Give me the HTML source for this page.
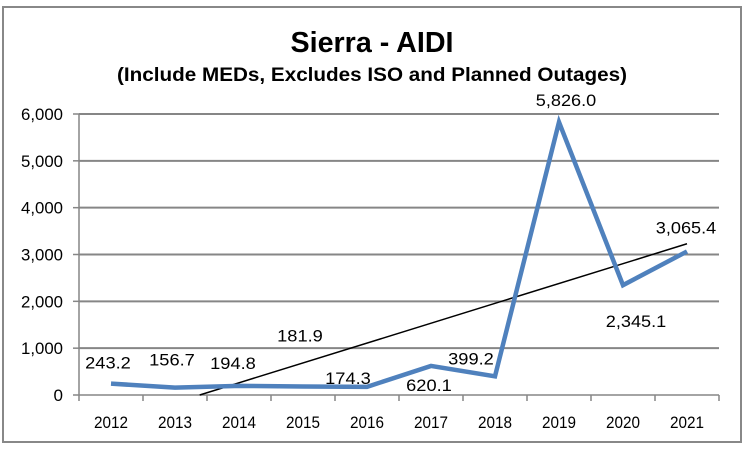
<!DOCTYPE html>
<html><head><meta charset="utf-8"><style>
html,body{margin:0;padding:0;background:#fff;}
svg{display:block;font-family:"Liberation Sans",sans-serif;}
</style></head><body>
<svg id="chart" width="746" height="450">
<defs><clipPath id="pc"><rect x="0" y="0" width="719" height="450"/></clipPath></defs>
<rect x="3" y="7" width="738" height="435" fill="#fff" stroke="#888" stroke-width="2"/>
<text x="372" y="52" text-anchor="middle" font-size="29" font-weight="bold" textLength="163" lengthAdjust="spacingAndGlyphs">Sierra - AIDI</text>
<text x="372" y="81" text-anchor="middle" font-size="19" font-weight="bold" textLength="510" lengthAdjust="spacingAndGlyphs">(Include MEDs, Excludes ISO and Planned Outages)</text>
<g id="grid"></g><g id="axes"></g><g id="trend"></g><g id="series"></g><g id="labels" clip-path="url(#pc)"></g>
</svg>
<script>
const categories=["2012","2013","2014","2015","2016","2017","2018","2019","2020","2021"];
const values=[243.2,156.7,194.8,181.9,174.3,620.1,399.2,5826.0,2345.1,3065.4];
const valueLabels=["243.2","156.7","194.8","181.9","174.3","620.1","399.2","5,826.0","2,345.1","3,065.4"];
const yTicks=[0,1000,2000,3000,4000,5000,6000];
const yTickLabels=["0","1,000","2,000","3,000","4,000","5,000","6,000"];
const labelOffsets=[[-3,-21],[-3,-28],[-6,-23],[-3,-51],[-19,-9],[-2,19],[-24,-18],[7,-22],[13,36],[-1,-24]];
const NS="http://www.w3.org/2000/svg";
const X0=79,X1=719,Y0=395,YT=114,YMAX=6000;
const bw=(X1-X0)/categories.length;
const xs=i=>X0+bw*(i+0.5);
const ys=v=>Y0-(v/YMAX)*(Y0-YT);
function tw(s,d,p){let w=0;for(const c of s)w+=(c===','||c==='.')?p:d;return w;}
function mk(t,a,p){const e=document.createElementNS(NS,t);for(const k in a)e.setAttribute(k,a[k]);p.appendChild(e);return e;}
const grid=document.getElementById('grid'),axes=document.getElementById('axes');
yTicks.forEach((t,i)=>{
 if(t>0){const l=mk('line',{x1:X0,x2:X1,y1:ys(t),y2:ys(t),stroke:'#868686','stroke-width':2},grid);
 
 }
 const tk=mk('line',{x1:X0-6,x2:X0,y1:ys(t),y2:ys(t),stroke:'#868686','stroke-width':1.5},axes);
 
 
 const s=yTickLabels[i];
 const tx=mk('text',{x:X0-16,y:ys(t)+6,'text-anchor':'end','font-size':17,textLength:tw(s,9.5,4),lengthAdjust:'spacingAndGlyphs'},axes);
 tx.textContent=s;
 
 
});
let a=mk('line',{x1:X0,x2:X0,y1:YT,y2:Y0,stroke:'#868686','stroke-width':1.5},axes);


a=mk('line',{x1:X0,x2:X1,y1:Y0,y2:Y0,stroke:'#868686','stroke-width':1.5},axes);


for(let i=0;i<=categories.length;i++){
 const t=mk('line',{x1:X0+bw*i,x2:X0+bw*i,y1:Y0,y2:Y0+6,stroke:'#868686','stroke-width':1.5},axes);
 
 
}
categories.forEach((c,i)=>{
 const t=mk('text',{x:xs(i),y:428,'text-anchor':'middle','font-size':17,textLength:34,lengthAdjust:'spacingAndGlyphs'},axes);
 t.textContent=c;
 
 
});
const n=values.length,mx=(n-1)/2,my=values.reduce((s,v)=>s+v,0)/n;
let sxy=0,sxx=0;values.forEach((v,i)=>{sxy+=(i-mx)*(v-my);sxx+=(i-mx)*(i-mx);});
const slope=sxy/sxx,icpt=my-slope*mx;
let i0=0;if(icpt<0)i0=-icpt/slope;
const tl=mk('line',{x1:xs(i0),y1:ys(icpt+slope*i0),x2:xs(n-1),y2:ys(icpt+slope*(n-1)),stroke:'#000','stroke-width':1.5},document.getElementById('trend'));


const pl=mk('polyline',{points:values.map((v,i)=>xs(i)+','+ys(v)).join(' '),fill:'none',stroke:'#4f81bd','stroke-width':4.5,'stroke-linejoin':'miter'},document.getElementById('series'));


values.forEach((v,i)=>{
 const s=valueLabels[i];
 const t=mk('text',{x:xs(i)+labelOffsets[i][0],y:ys(v)+labelOffsets[i][1]+6,'text-anchor':'middle','font-size':17,textLength:tw(s,10.3,4.5),lengthAdjust:'spacingAndGlyphs'},document.getElementById('labels'));
 t.textContent=s;
 
 
});
</script>
</body></html>
